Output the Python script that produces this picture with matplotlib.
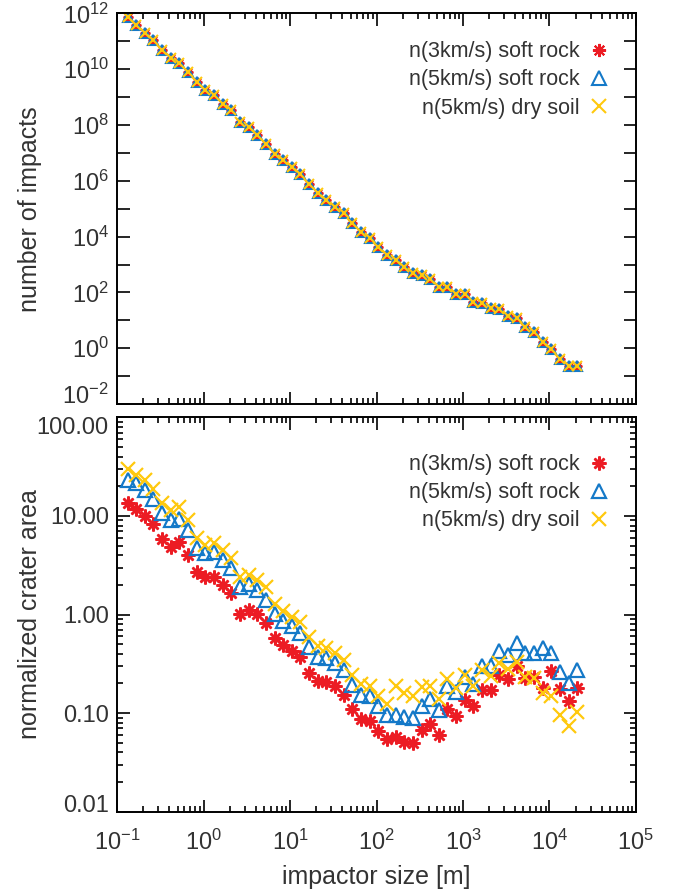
import numpy as np
import matplotlib
matplotlib.use("Agg")
from matplotlib import pyplot as plt
from matplotlib import ticker

plt.rcParams["font.family"] = ["Liberation Sans", "DejaVu Sans"]
plt.rcParams["mathtext.fontset"] = "custom"
plt.rcParams["mathtext.rm"] = "Liberation Sans"
plt.rcParams["mathtext.it"] = "Liberation Sans:italic"
plt.rcParams["mathtext.bf"] = "Liberation Sans:bold"

# ==============================================================================
# DATA (log10 values)
# ==============================================================================
log_size = [
    -0.88, -0.78, -0.68, -0.58, -0.48, -0.38, -0.28, -0.18, -0.08, 0.02,
    0.12, 0.22, 0.32, 0.42, 0.52, 0.62, 0.72, 0.82, 0.92, 1.02,
    1.12, 1.22, 1.32, 1.42, 1.52, 1.62, 1.72, 1.82, 1.92, 2.02,
    2.12, 2.22, 2.32, 2.42, 2.52, 2.62, 2.72, 2.82, 2.92, 3.02,
    3.12, 3.22, 3.32, 3.42, 3.52, 3.62, 3.72, 3.82, 3.92, 4.02,
    4.12, 4.22, 4.32,
]

log_n_impacts = [
    11.87, 11.57, 11.29, 11.03, 10.67, 10.41, 10.22, 9.90, 9.54, 9.27,
    9.06, 8.76, 8.52, 8.10, 7.92, 7.63, 7.33, 6.97, 6.73, 6.49,
    6.23, 5.88, 5.55, 5.30, 5.05, 4.83, 4.47, 4.15, 3.94, 3.61,
    3.33, 3.15, 2.90, 2.68, 2.61, 2.47, 2.21, 2.19, 1.96, 1.93,
    1.64, 1.61, 1.43, 1.39, 1.14, 1.10, 0.75, 0.57, 0.21, -0.01,
    -0.37, -0.62, -0.65,
]

log_area_3kms_rock = [
    1.13, 1.07, 1.00, 0.92, 0.77, 0.69, 0.74, 0.60, 0.43, 0.38,
    0.38, 0.30, 0.22, 0.01, 0.05, 0.01, -0.09, -0.24, -0.31, -0.37,
    -0.43, -0.59, -0.67, -0.68, -0.73, -0.82, -0.96, -1.06, -1.08, -1.18,
    -1.26, -1.24, -1.29, -1.30, -1.17, -1.11, -1.22, -0.96, -1.03, -0.87,
    -0.93, -0.77, -0.77, -0.61, -0.65, -0.52, -0.64, -0.63, -0.75, -0.57,
    -0.76, -0.88, -0.75,
]

log_area_5kms_rock = [
    1.37, 1.33, 1.26, 1.17, 1.03, 0.96, 0.97, 0.86, 0.68, 0.62,
    0.63, 0.55, 0.47, 0.28, 0.31, 0.25, 0.15, 0.01, -0.07, -0.12,
    -0.19, -0.33, -0.43, -0.44, -0.49, -0.56, -0.71, -0.82, -0.83, -0.93,
    -1.02, -1.02, -1.04, -1.05, -0.93, -0.86, -0.97, -0.73, -0.79, -0.63,
    -0.70, -0.52, -0.52, -0.37, -0.41, -0.29, -0.39, -0.39, -0.34, -0.39,
    -0.58, -0.69, -0.56,
]

log_area_5kms_soil = [
    1.48, 1.42, 1.36, 1.27, 1.13, 1.06, 1.09, 0.96, 0.78, 0.71,
    0.73, 0.65, 0.57, 0.38, 0.40, 0.35, 0.28, 0.11, 0.04, -0.02,
    -0.08, -0.23, -0.32, -0.34, -0.39, -0.46, -0.61, -0.70, -0.72, -0.83,
    -0.91, -0.72, -0.80, -0.83, -0.74, -0.72, -0.86, -0.65, -0.75, -0.61,
    -0.72, -0.56, -0.62, -0.49, -0.55, -0.48, -0.63, -0.64, -0.80, -0.83,
    -1.02, -1.13, -0.99,
]

series_labels = ["n(3km/s) soft rock", "n(5km/s) soft rock", "n(5km/s) dry soil"]

# ==============================================================================
# STYLE
# ==============================================================================
RED = "#ec1c24"
BLUE = "#1479c8"
YELLOW = "#ffc90e"
TEXT = "#333333"
TICK_FS = 17
LABEL_FS = 18
LEGEND_FS = 15.5

size = 10.0 ** np.array(log_size)


def style_axis(axis, show_xlabels):
    axis.set_xscale("log")
    axis.set_yscale("log")
    axis.set_xlim(1e-1, 1e5)
    axis.tick_params(which="both", direction="in", top=True, right=True,
                     colors="black", labelcolor=TEXT, labelsize=TICK_FS, width=1.2)
    axis.tick_params(which="major", length=9)
    axis.tick_params(which="minor", length=4.5)
    axis.tick_params(axis="x", which="major", pad=13)
    axis.tick_params(axis="y", which="major", pad=6)
    axis.xaxis.set_major_locator(ticker.LogLocator(base=10, numticks=20))
    axis.xaxis.set_minor_locator(ticker.LogLocator(base=10, subs=np.arange(2, 10), numticks=20))
    if not show_xlabels:
        axis.xaxis.set_major_formatter(ticker.NullFormatter())
    for spine in axis.spines.values():
        spine.set_linewidth(1.4)


def add_legend(axis, handles, markerscale, anchor_y):
    axis.legend(
        handles, series_labels, loc="upper right", bbox_to_anchor=(1.0, anchor_y),
        frameon=False, markerfirst=False,
        fontsize=LEGEND_FS, labelcolor=TEXT, handlelength=0.8, handletextpad=0.5,
        labelspacing=0.33, borderaxespad=0.9, markerscale=markerscale,
    )


def pin_end_labels(axis, y_low, y_high):
    # Keep the extreme y labels inside the axis frame.
    for tick in axis.yaxis.get_major_ticks():
        loc = tick.get_loc()
        if np.isclose(loc, y_high):
            tick.label1.set_verticalalignment("top")
        elif np.isclose(loc, y_low):
            tick.label1.set_verticalalignment("baseline")


# ==============================================================================
# FIGURE
# ==============================================================================
fig = plt.figure(figsize=(6.89, 8.90), dpi=100)
ax_top = fig.add_axes([0.170, 0.546, 0.753, 0.439])
ax_bot = fig.add_axes([0.170, 0.088, 0.753, 0.443])

# Top: number of impacts.
n_impacts = 10.0 ** np.array(log_n_impacts)
h1, = ax_top.plot(size, n_impacts, linestyle="none", marker=(8, 2, 0), markersize=7,
                  color=RED, markeredgewidth=1.5)
h2, = ax_top.plot(size, n_impacts, linestyle="none", marker="^", markersize=7,
                  markerfacecolor="none", markeredgecolor=BLUE, markeredgewidth=1.5)
h3, = ax_top.plot(size, n_impacts, linestyle="none", marker="x", markersize=7,
                  color=YELLOW, markeredgewidth=1.5)
style_axis(ax_top, show_xlabels=False)
ax_top.set_ylim(1e-2, 1e12)
ax_top.yaxis.set_major_locator(ticker.LogLocator(base=10, numticks=30))
ax_top.yaxis.set_minor_locator(ticker.NullLocator())
ax_top.yaxis.set_major_formatter(ticker.FuncFormatter(
    lambda v, pos: "$\\mathregular{10^{%d}}$" % round(np.log10(v)) if round(np.log10(v)) % 2 == 0 else ""
))
ax_top.set_ylabel("number of impacts", fontsize=LABEL_FS, color=TEXT)
ax_top.yaxis.set_label_coords(-0.145, 0.5)
add_legend(ax_top, [h1, h2, h3], markerscale=1.35, anchor_y=1.0)

# Bottom: normalized crater area.
g1, = ax_bot.plot(size, 10.0 ** np.array(log_area_3kms_rock), linestyle="none",
                  marker=(8, 2, 0), markersize=10, color=RED, markeredgewidth=1.8)
g2, = ax_bot.plot(size, 10.0 ** np.array(log_area_5kms_rock), linestyle="none",
                  marker="^", markersize=10, markerfacecolor="none",
                  markeredgecolor=BLUE, markeredgewidth=1.6)
g3, = ax_bot.plot(size, 10.0 ** np.array(log_area_5kms_soil), linestyle="none",
                  marker="x", markersize=10, color=YELLOW, markeredgewidth=1.6)
style_axis(ax_bot, show_xlabels=True)
ax_bot.set_ylim(1e-2, 1e2)
ax_bot.yaxis.set_major_locator(ticker.LogLocator(base=10, numticks=10))
ax_bot.yaxis.set_minor_locator(ticker.LogLocator(base=10, subs=np.arange(2, 10), numticks=10))
ax_bot.yaxis.set_major_formatter(ticker.FormatStrFormatter("%.2f"))
ax_bot.set_ylabel("normalized crater area", fontsize=LABEL_FS, color=TEXT)
ax_bot.yaxis.set_label_coords(-0.145, 0.5)
ax_bot.set_xlabel("impactor size [m]", fontsize=LABEL_FS, color=TEXT, labelpad=7)
add_legend(ax_bot, [g1, g2, g3], markerscale=1.0, anchor_y=0.978)

fig.canvas.draw()
pin_end_labels(ax_top, 1e-2, 1e12)
pin_end_labels(ax_bot, 1e-2, 1e2)
# top panel's highest label stays centred like the reference
for tick in ax_top.yaxis.get_major_ticks():
    if np.isclose(tick.get_loc(), 1e12):
        tick.label1.set_verticalalignment("center_baseline")

fig.savefig("out.png", dpi=100)
